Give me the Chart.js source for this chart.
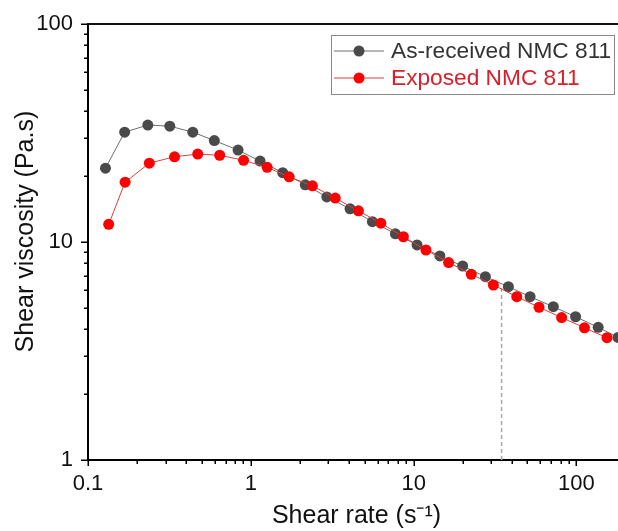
<!DOCTYPE html>
<html>
<head>
<meta charset="utf-8">
<script src="https://cdn.jsdelivr.net/npm/chart.js@4.4.1/dist/chart.umd.min.js"></script>
<style>
  html, body { margin: 0; padding: 0; background: #ffffff; }
  #c { display: block; }
</style>
</head>
<body>
<canvas id="c" width="618" height="531"></canvas>
<script>
// ---- Data ----
const seriesNames = ['As-received NMC 811', 'Exposed NMC 811'];

const shearRateAsReceived = [0.128, 0.168, 0.233, 0.318, 0.44, 0.597, 0.835, 1.14, 1.57, 2.16, 2.93, 4.07, 5.58, 7.73, 10.5, 14.5, 20.0, 27.6, 38.2, 51.9, 72.1, 98.8, 136, 180];
const viscosityAsReceived = [21.8, 31.9, 34.4, 34.0, 31.9, 29.2, 26.4, 23.5, 20.8, 18.3, 16.1, 14.2, 12.4, 10.9, 9.69, 8.63, 7.76, 6.93, 6.24, 5.61, 5.05, 4.54, 4.06, 3.65];

const shearRateExposed = [0.134, 0.169, 0.238, 0.34, 0.472, 0.644, 0.903, 1.26, 1.72, 2.39, 3.30, 4.58, 6.29, 8.65, 11.9, 16.4, 22.6, 30.9, 43.0, 58.9, 81.1, 112, 154];
const viscosityExposed = [12.05, 18.8, 23.0, 24.6, 25.3, 25.0, 23.7, 22.0, 19.9, 18.1, 15.9, 13.9, 12.2, 10.57, 9.19, 8.05, 7.11, 6.35, 5.61, 5.02, 4.50, 4.04, 3.64];

// vertical dashed marker line
const markerShearRate = [34.7, 34.7];
const markerViscosity = [1, 6.2];

// axis ticks
const xTickValues = [0.1,0.2,0.3,0.4,0.5,0.6,0.7,0.8,0.9,1,2,3,4,5,6,7,8,9,10,20,30,40,50,60,70,80,90,100];
const yTickValues = [1,2,3,4,5,6,7,8,9,10,20,30,40,50,60,70,80,90,100];
const xTickLabels = {0.1: '0.1', 1: '1', 10: '10', 100: '100'};
const yTickLabels = {1: '1', 10: '10', 100: '100'};
const xTitle = ' Shear rate (s\u207B\u00B9)';
const yTitle = '   Shear viscosity (Pa.s)';

// ---- styles ----
const FONT = '"Liberation Sans", Arial, sans-serif';
const black = { point: '#4a4a4a', line: '#6e6e6e', text: '#333333' };
const red = { point: '#ff0000', line: '#d94040', text: '#d9202a' };

const toXY = (xs, ys) => xs.map((x, i) => ({ x: x, y: ys[i] }));
const isMajor = v => Math.abs(Math.log10(v) - Math.round(Math.log10(v))) < 1e-9;

const tickPlugin = {
  id: 'tickMarks',
  afterDraw(chart) {
    const ctx = chart.ctx;
    const ca = chart.chartArea;
    const xs = chart.scales.x, ys = chart.scales.y;
    ctx.save();
    ctx.strokeStyle = '#000';
    ctx.lineWidth = 1.5;
    ctx.beginPath();
    xTickValues.forEach(v => {
      const p = Math.round(xs.getPixelForValue(v)) + 0.25;
      const len = isMajor(v) ? 6 : 4;
      ctx.moveTo(p, ca.bottom);
      ctx.lineTo(p, ca.bottom + len);
    });
    yTickValues.forEach(v => {
      const p = Math.round(ys.getPixelForValue(v)) + 0.25;
      const len = isMajor(v) ? 7 : 4;
      ctx.moveTo(ca.left, p);
      ctx.lineTo(ca.left - len, p);
    });
    ctx.stroke();
    // top frame line
    ctx.lineWidth = 2;
    ctx.strokeStyle = '#111';
    ctx.beginPath();
    ctx.moveTo(ca.left - 1, ca.top);
    ctx.lineTo(chart.width, ca.top);
    ctx.stroke();
    ctx.restore();
  }
};

const legendPlugin = {
  id: 'boxLegend',
  afterDraw(chart) {
    const ctx = chart.ctx;
    const box = { l: 331.5, t: 35.5, r: 614.5, b: 94.5 };
    ctx.save();
    ctx.strokeStyle = '#8a8a8a';
    ctx.lineWidth = 1;
    ctx.strokeRect(box.l, box.t, box.r - box.l, box.b - box.t);
    const rows = [
      { y: 51, c: black, label: seriesNames[0] },
      { y: 78, c: red, label: seriesNames[1] }
    ];
    rows.forEach(r => {
      ctx.strokeStyle = r.c.line;
      ctx.lineWidth = 1;
      ctx.beginPath();
      ctx.moveTo(334, r.y);
      ctx.lineTo(384, r.y);
      ctx.stroke();
      ctx.fillStyle = r.c.point;
      ctx.beginPath();
      ctx.arc(359, r.y, 5.5, 0, Math.PI * 2);
      ctx.fill();
      ctx.fillStyle = r.c.text;
      ctx.font = '22.7px ' + FONT;
      ctx.textBaseline = 'middle';
      ctx.textAlign = 'left';
      ctx.fillText(r.label, 391, r.y + 1);
    });
    ctx.restore();
  }
};

new Chart(document.getElementById('c'), {
  type: 'line',
  data: {
    datasets: [
      {
        label: seriesNames[1],
        data: toXY(shearRateExposed, viscosityExposed),
        borderColor: red.line,
        backgroundColor: red.point,
        pointBackgroundColor: red.point,
        pointBorderColor: red.point,
        pointRadius: 5.5,
        pointBorderWidth: 0,
        borderWidth: 1,
        tension: 0,
        fill: false
      },
      {
        label: seriesNames[0],
        data: toXY(shearRateAsReceived, viscosityAsReceived),
        borderColor: black.line,
        backgroundColor: black.point,
        pointBackgroundColor: black.point,
        pointBorderColor: black.point,
        pointRadius: 5.5,
        pointBorderWidth: 0,
        borderWidth: 1,
        tension: 0,
        fill: false
      },
      {
        label: 'marker',
        data: toXY(markerShearRate, markerViscosity),
        borderColor: '#a8a8a8',
        borderDash: [4, 3],
        borderWidth: 1.5,
        pointRadius: 0,
        fill: false
      }
    ]
  },
  options: {
    responsive: false,
    animation: false,
    devicePixelRatio: 1,
    layout: { autoPadding: false, padding: { top: 24, right: 0, bottom: 0, left: 0 } },
    plugins: { legend: { display: false }, tooltip: { enabled: false } },
    scales: {
      x: {
        type: 'logarithmic',
        position: 'bottom',
        min: 0.1,
        max: 180,
        afterBuildTicks: s => { s.ticks = xTickValues.map(v => ({ value: v })); },
        afterFit: s => { s.height = 71; s.paddingLeft = 0; s.paddingRight = 0; },
        grid: { display: false, drawTicks: false },
        border: { display: true, color: '#000', width: 2 },
        ticks: {
          autoSkip: false,
          maxRotation: 0,
          padding: 11,
          color: '#111',
          font: { family: FONT, size: 22 },
          callback: v => xTickLabels[v] !== undefined ? xTickLabels[v] : ''
        },
        title: {
          display: true,
          text: xTitle,
          color: '#111',
          font: { family: FONT, size: 25, lineHeight: 1.2 },
          padding: { top: 0, bottom: 0 }
        }
      },
      y: {
        type: 'logarithmic',
        position: 'left',
        min: 1,
        max: 100,
        afterBuildTicks: s => { s.ticks = yTickValues.map(v => ({ value: v })); },
        afterFit: s => { s.width = 88; s.paddingTop = 0; s.paddingBottom = 0; },
        grid: { display: false, drawTicks: false },
        border: { display: true, color: '#000', width: 2 },
        ticks: {
          autoSkip: false,
          padding: 15,
          color: '#111',
          font: { family: FONT, size: 22 },
          callback: v => yTickLabels[v] !== undefined ? yTickLabels[v] : ''
        },
        title: {
          display: true,
          text: yTitle,
          color: '#111',
          font: { family: FONT, size: 25, lineHeight: 1.2 },
          padding: { top: 11, bottom: 0 }
        }
      }
    }
  },
  plugins: [tickPlugin, legendPlugin]
});
</script>
</body>
</html>
